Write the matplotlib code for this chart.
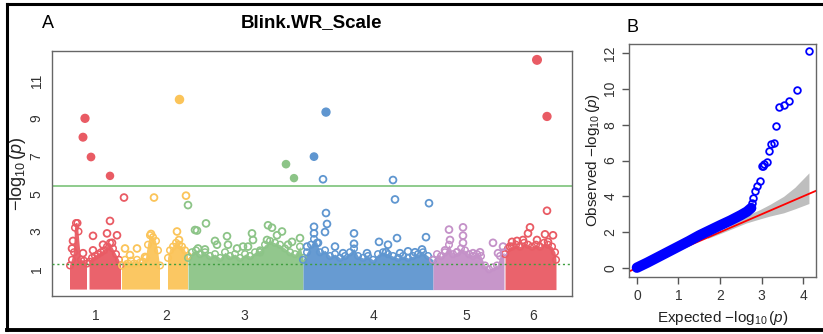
import numpy as np
import matplotlib
matplotlib.use("Agg")
import matplotlib.pyplot as plt
from matplotlib.lines import Line2D

plt.rcParams['font.family'] = ['Liberation Sans', 'DejaVu Sans']
plt.rcParams['mathtext.fontset'] = 'custom'
plt.rcParams['mathtext.rm'] = 'Liberation Sans'
plt.rcParams['mathtext.it'] = 'Liberation Sans:italic'

# ---------------- Manhattan data (positions on a cumulative scale) ----------------
chrom_labels = ['1', '2', '3', '4', '5', '6']
chrom_tick_pos = [96, 166, 244, 374, 466, 533]
chrom_colors = ['#E95B64', '#FBC459', '#8CC487', '#5F96D0', '#C491C8', '#E95B64']

# upper edge of the dense cloud of markers, per chromosome (nan = no markers)
env_pos = [
    [70, 72, 74, 75, 76, 77.5, 78.5, 81, 84, 87, 88, 89.5, 92, 95, 98, 101, 104, 107, 110, 113, 116, 119, 121],
    [122, 125, 128, 131, 134, 137, 140, 143, 146, 148, 150, 153, 156, 158, 160, 164, 168, 170, 173, 176, 179, 182, 185, 188],
    [188, 192, 196, 200, 205, 210, 215, 220, 225, 230, 235, 240, 245, 250, 255, 260, 265, 270, 275, 280, 285, 290, 295, 300, 303],
    [303, 307, 311, 314, 317, 320, 325, 330, 335, 340, 345, 350, 354, 358, 363, 368, 373, 378, 383, 388, 393, 398, 403, 408, 413, 418, 423, 428, 433],
    [433, 437, 441, 445, 449, 453, 457, 461, 465, 469, 473, 477, 481, 485, 489, 493, 497, 500, 504],
    [505, 508, 512, 516, 520, 524, 528, 532, 536, 540, 544, 548, 552, 555, 556],
]
env_top = [
    [1.2, 1.5, 1.9, 3.2, 3.45, 3.45, 3.0, 1.5, 1.45, 1.3, np.nan, 1.4, 1.6, 1.7, 1.8, 1.9, 2.0, 2.2, 2.4, 2.1, 1.8, 1.5, 1.2],
    [1.2, 1.5, 1.3, 1.45, 1.3, 1.5, 1.35, 1.4, 1.6, 2.3, 2.8, 2.7, 2.5, 2.0, 1.2, np.nan, 1.6, 2.0, 2.2, 2.4, 2.3, 2.2, 2.0, 1.7],
    [1.6, 1.9, 2.0, 1.8, 1.9, 1.7, 1.8, 1.6, 1.9, 1.7, 1.8, 1.6, 1.8, 1.7, 1.9, 2.0, 2.3, 2.5, 2.4, 2.3, 2.1, 1.9, 1.8, 2.2, 1.6],
    [1.5, 1.9, 2.3, 2.6, 2.4, 1.9, 2.0, 1.7, 1.8, 1.6, 1.7, 1.9, 2.1, 1.7, 1.6, 1.7, 1.5, 1.8, 1.9, 1.8, 1.7, 1.6, 1.7, 1.6, 1.7, 1.8, 1.9, 1.7, 1.5],
    [1.5, 1.8, 1.7, 1.9, 2.3, 1.8, 1.9, 2.1, 2.0, 1.8, 1.7, 1.8, 1.7, 1.2, 1.0, 1.1, 1.2, 1.7, 1.9],
    [1.8, 2.1, 2.2, 2.3, 2.2, 2.4, 2.3, 2.2, 2.3, 2.2, 2.4, 2.3, 2.2, 1.9, 1.5],
]

# individual markers standing out of the cloud: position, -log10(p), chromosome index
snp_pos = [85, 83, 91, 110, 124, 110, 93, 107, 117, 72, 73, 93, 103, 112, 83,
           154, 179, 186, 177, 151, 125, 137, 145, 130, 179,
           188, 286, 294, 206, 195, 197, 227, 215, 252, 253, 268, 272, 282, 277, 267, 292, 300,
           198, 205, 217, 228, 237, 243, 248, 260, 288,
           326, 314, 323, 393, 395, 429, 326, 327, 325, 314, 314, 318, 335, 354, 354, 379, 388,
           397, 426, 408, 422, 415, 367, 307, 343, 400, 386,
           449, 463, 463, 450, 463, 493, 445, 480, 503, 457, 473, 498,
           537, 547, 547, 530, 528, 545, 553, 517, 523, 512, 537, 548, 510]
snp_logp = [9.0, 8.0, 6.95, 5.95, 4.8, 3.56, 2.77, 2.9, 2.8, 2.1, 2.5, 2.0, 2.3, 2.4, 1.85,
            4.8, 10.0, 4.9, 3.0, 2.87, 2.1, 2.1, 1.65, 1.75, 2.55,
            4.4, 6.57, 5.83, 3.43, 3.08, 3.05, 2.75, 2.5, 2.9, 2.55, 3.33, 3.2, 3.0, 2.8, 2.55, 2.45, 2.65,
            2.1, 2.05, 2.3, 2.3, 2.1, 2.2, 2.2, 1.9, 2.3,
            9.33, 6.97, 5.77, 5.73, 4.7, 4.5, 3.98, 3.4, 2.97, 3.25, 2.9, 2.4, 2.2, 2.9, 2.35, 2.45, 2.3,
            2.65, 2.7, 1.95, 2.05, 1.9, 1.85, 2.2, 1.85, 1.85, 1.9,
            3.1, 3.22, 2.78, 2.55, 2.4, 2.4, 2.0, 1.9, 2.2, 1.9, 1.85, 1.85,
            12.1, 9.1, 4.1, 3.22, 2.9, 2.85, 2.8, 2.5, 2.55, 2.45, 2.55, 2.45, 2.2]
snp_chrom = [0] * 15 + [1] * 10 + [2] * 26 + [3] * 27 + [4] * 12 + [5] * 13

bonferroni = 5.41
suggestive = 1.3

# ---------------- QQ data ----------------
qq_exp = [0.0, 0.25, 0.5, 0.75, 1.0, 1.25, 1.5, 1.75, 2.0, 2.25, 2.5, 2.65, 2.75]
qq_obs = [0.02, 0.3, 0.6, 0.9, 1.2, 1.5, 1.82, 2.1, 2.38, 2.65, 2.95, 3.15, 3.35]
qq_top_exp = [2.76, 2.8, 2.84, 2.9, 2.96, 3.0, 3.03, 3.07, 3.12, 3.17, 3.23, 3.29, 3.35,
              3.43, 3.53, 3.67, 3.85, 4.14]
qq_top_obs = [3.64, 3.92, 4.29, 4.57, 4.85, 5.68, 5.72, 5.8, 5.9, 6.52, 6.93, 6.95, 7.91,
              9.0, 9.1, 9.3, 9.96, 12.1]
band_x = [1.7, 2.0, 2.3, 2.64, 2.96, 3.2, 3.53, 3.8, 4.14]
band_hi = [1.75, 2.08, 2.42, 2.93, 3.26, 3.55, 4.0, 4.5, 5.31]
band_lo = [1.65, 1.92, 2.2, 2.52, 2.74, 2.9, 3.08, 3.3, 3.6]

W, H = 823, 334
fig = plt.figure(figsize=(W / 100, H / 100), dpi=100)
axA = fig.add_axes([52 / W, 1 - 296 / H, 520 / W, 245 / H])
axB = fig.add_axes([629 / W, 1 - 277 / H, 187 / W, 233 / H])

# ---- panel A ----
for i, col in enumerate(chrom_colors):
    x = np.array(env_pos[i], dtype=float)
    y = np.array(env_top[i], dtype=float)
    axA.fill_between(x, -0.08, y, color=col, lw=0, alpha=0.95, zorder=2)
    axA.scatter(x, y, s=22, facecolors='none', edgecolors=col, linewidths=1.1, zorder=3)

snp_pos_a = np.array(snp_pos)
snp_logp_a = np.array(snp_logp)
snp_chrom_a = np.array(snp_chrom)
for i, col in enumerate(chrom_colors):
    m = snp_chrom_a == i
    xs, ys = snp_pos_a[m], snp_logp_a[m]
    big = ys > 5.8
    axA.scatter(xs[~big], ys[~big], s=24, facecolors='none', edgecolors=col,
                linewidths=1.3, zorder=4)
    axA.scatter(xs[big], ys[big], s=14 + 2.0 * ys[big], color=col, zorder=4)

axA.axhline(bonferroni, color='#86C784', lw=1.3, zorder=1)
axA.axhline(suggestive, color='#3E9E3E', lw=1.0, ls=(0, (1.5, 2)), zorder=5)

axA.set_xlim(52, 572)
axA.set_ylim(-0.42, 12.57)
axA.set_xticks(chrom_tick_pos)
axA.set_xticklabels(chrom_labels)
axA.set_yticks([1, 3, 5, 7, 9, 11])
axA.set_yticklabels(['1', '3', '5', '7', '9', '11'], rotation=90, va='center')
axA.tick_params(axis='both', length=0, labelsize=10, colors='#333333')
axA.tick_params(axis='x', pad=9)
axA.tick_params(axis='y', pad=6)
for s in axA.spines.values():
    s.set_color('#666666')
    s.set_linewidth(1.0)
axA.set_ylabel(r'$-\log_{10}(p)$', fontsize=13, color='#222222', va='center')
axA.yaxis.set_label_coords(-0.066, 0.5)

# ---- panel B ----
axB.fill_between(band_x, band_lo, band_hi, color='#BEBEBE', lw=0, zorder=1)
axB.plot([-0.19, 4.31], [-0.19, 4.31], color='red', lw=1.3, zorder=2)
axB.plot(qq_exp, qq_obs, color='blue', lw=7.5, solid_capstyle='round', zorder=3)
axB.plot(qq_top_exp, qq_top_obs, 'o', mfc='none', mec='blue', ms=4.8, mew=1.3, zorder=4)

axB.set_xlim(-0.19, 4.31)
axB.set_ylim(-0.5, 12.5)
axB.set_xticks([0, 1, 2, 3, 4])
axB.set_yticks([0, 2, 4, 6, 8, 10, 12])
axB.set_yticklabels(['0', '2', '4', '6', '8', '10', '12'], rotation=90, va='center')
axB.tick_params(axis='both', direction='out', length=5, width=1, color='#555555',
                labelsize=10, labelcolor='#333333')
for s in axB.spines.values():
    s.set_color('#666666')
    s.set_linewidth(1.0)
axB.set_xlabel(r'Expected $-\log_{10}(p)$', fontsize=11, color='#222222', va='center')
axB.xaxis.set_label_coords(0.5, -0.176)
axB.set_ylabel(r'Observed $-\log_{10}(p)$', fontsize=11, color='#222222', va='center')
axB.yaxis.set_label_coords(-0.193, 0.5)

# ---- titles and panel letters ----
fig.text(312 / W, 1 - 23 / H, 'Blink.WR_Scale', fontsize=13.5, fontweight='bold',
         ha='center', va='center')
fig.text(48 / W, 1 - 23 / H, 'A', fontsize=13, ha='center', va='center')
fig.text(632 / W, 1 - 28 / H, 'B', fontsize=13, ha='center', va='center')

# ---- outer frame ----
fig.add_artist(Line2D([6.5 / W, 6.5 / W], [1 - 4 / H, 1 - 330 / H], color='black', lw=2.2))
fig.add_artist(Line2D([6.5 / W, 1], [1 - 4 / H, 1 - 4 / H], color='black', lw=2.2))
fig.add_artist(Line2D([6.5 / W, 1], [1 - 330 / H, 1 - 330 / H], color='black', lw=2.8))

fig.savefig('out.png', dpi=100)
